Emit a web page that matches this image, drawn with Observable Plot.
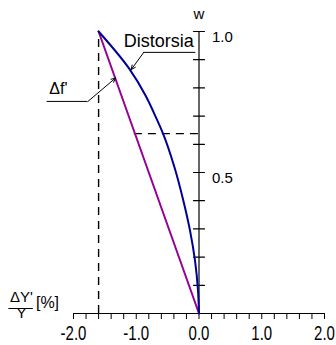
<!DOCTYPE html>
<html>
<head>
<meta charset="utf-8">
<script src="https://cdn.jsdelivr.net/npm/d3@7"></script>
<script src="https://cdn.jsdelivr.net/npm/@observablehq/plot@0.6"></script>
<style>
  html, body { margin: 0; padding: 0; background: #fff; }
  svg { display: block; }
</style>
</head>
<body>
<div id="chart"></div>
<script>
// ---- data ----
const wValues        = [1.0, 0.869, 0.773, 0.691, 0.638, 0.518, 0.401, 0.294, 0.188, 0.082, 0.0];
const distorsiaX     = [-1.6, -1.115, -0.852, -0.677, -0.573, -0.39, -0.25, -0.143, -0.064, -0.016, 0.0];
const deltaFW        = [1.0, 0.0];
const deltaFX        = [-1.6, 0.0];
const xMinorTicks    = d3.range(-2, 2.0001, 0.2).map(v => +v.toFixed(1));
const xLabelTicks    = [-2, -1, 0, 1, 2];
const yMinorTicks    = [0.1, 0.2, 0.3, 0.4, 0.5, 0.6, 0.7, 0.8, 0.9, 1.0];
const yLabelTicks    = [1.0, 0.5];
const guideX         = -1.6;   // vertical dashed guide
const guideW         = 0.638;  // horizontal dashed guide
const guideXatW      = -1.03;
// annotations
const annText        = ["Distorsia", "Δf'"];
const annX           = [-0.64, -2.24];
const annY           = [0.965, 0.797];
const annSize        = [18, 16];
const leaderX1       = [-0.05, -2.42];
const leaderX2       = [-0.88, -1.77];
const leaderY        = [0.926, 0.752];
const arrowTipX      = [-1.08, -1.33];
const arrowTipY      = [0.865, 0.835];

const blue = "#000096";
const purple = "#960096";
const font = "Arial, 'Liberation Sans', sans-serif";

const curve = wValues.map((w, i) => ({x: distorsiaX[i], w}));
const straight = deltaFW.map((w, i) => ({x: deltaFX[i], w}));
const ann = annText.map((t, i) => ({t, x: annX[i], y: annY[i], s: annSize[i]}));
const leaders = leaderY.map((y, i) => ({x1: leaderX1[i], x2: leaderX2[i], y, tx: arrowTipX[i], ty: arrowTipY[i]}));

const tickShape = {draw(ctx, l) { ctx.moveTo(0, 0); ctx.lineTo(0, -l); }};

const chart = Plot.plot({
  width: 336,
  height: 345,
  marginLeft: 73,
  marginRight: 12,
  marginTop: 31,
  marginBottom: 32,
  x: {domain: [-2, 2]},
  y: {domain: [0, 1], axis: null},
  style: {fontFamily: font, fontSize: "15px", background: "#fff", color: "#000", overflow: "visible"},
  marks: [
    // dashed guides
    Plot.ruleX([guideX], {y1: 0, y2: 0.985, stroke: "#000", strokeWidth: 1.4, strokeDasharray: "8,6"}),
    Plot.ruleY([guideW], {x1: guideXatW, x2: 0, stroke: "#000", strokeWidth: 1.4, strokeDasharray: "8,6"}),
    // x axis
    Plot.ruleY([0], {stroke: "#000", strokeWidth: 1.2}),
    Plot.axisX({ticks: xMinorTicks, tickSize: 6, tickFormat: () => "", stroke: "#000", strokeOpacity: 1}),
    Plot.text(xLabelTicks, {x: d => d, frameAnchor: "bottom", text: d => d.toFixed(1), lineAnchor: "top", dy: 13, fontSize: 15, fill: "#010101"}),
    // y axis at x = 0
    Plot.ruleX([0], {y1: 0, y2: 1, stroke: "#000", strokeWidth: 1.2}),
    Plot.vector(yMinorTicks, {x: 0, y: d => d, length: 11, rotate: 90, anchor: "middle", shape: tickShape, stroke: "#000", strokeWidth: 1.2}),
    Plot.text(yLabelTicks, {x: 0, y: d => d, text: d => d.toFixed(1), dx: 13, dy: 6, textAnchor: "start", fontSize: 15, fill: "#000"}),
    Plot.text(["w"], {x: 0, y: 1, text: d => d, dy: -17, textAnchor: "middle", fontSize: 15, fill: "#000"}),
    // series
    Plot.line(straight, {x: "x", y: "w", stroke: purple, strokeWidth: 2}),
    Plot.line(curve, {x: "x", y: "w", stroke: blue, strokeWidth: 2, curve: "monotone-y"}),
    // annotations
    Plot.text(ann, {x: "x", y: "y", text: "t", textAnchor: "middle", fontSize: "s", fill: "#000"}),
    Plot.ruleY(leaders, {x1: "x1", x2: "x2", y: "y", stroke: "#000", strokeWidth: 1}),
    Plot.arrow(leaders, {x1: "x2", y1: "y", x2: "tx", y2: "ty", stroke: "#000", strokeWidth: 1, headLength: 7, headAngle: 50}),
    // x-axis title: ΔY'/Y [%]
    Plot.text(["ΔY'"], {frameAnchor: "bottom-left", text: d => d, dx: -52, dy: -12, textAnchor: "middle", fontSize: 15, fill: "#000"}),
    Plot.ruleY([0], {x1: -3.03, x2: -2.64, dy: -5, stroke: "#000", strokeWidth: 1}),
    Plot.text(["Y"], {frameAnchor: "bottom-left", text: d => d, dx: -52, dy: 4, textAnchor: "middle", fontSize: 15, fill: "#000"}),
    Plot.text(["[%]"], {frameAnchor: "bottom-left", text: d => d, dx: -26, dy: -6, textAnchor: "middle", fontSize: 16, fill: "#000"})
  ]
});
// x tick labels in the reference are drawn vertically stretched
d3.select(chart).selectAll('g[fill="#010101"] text').each(function() {
  const t = this.getAttribute("transform") || "";
  this.setAttribute("transform", t + " scale(1,1.3)");
});
document.getElementById("chart").appendChild(chart);
</script>
</body>
</html>
